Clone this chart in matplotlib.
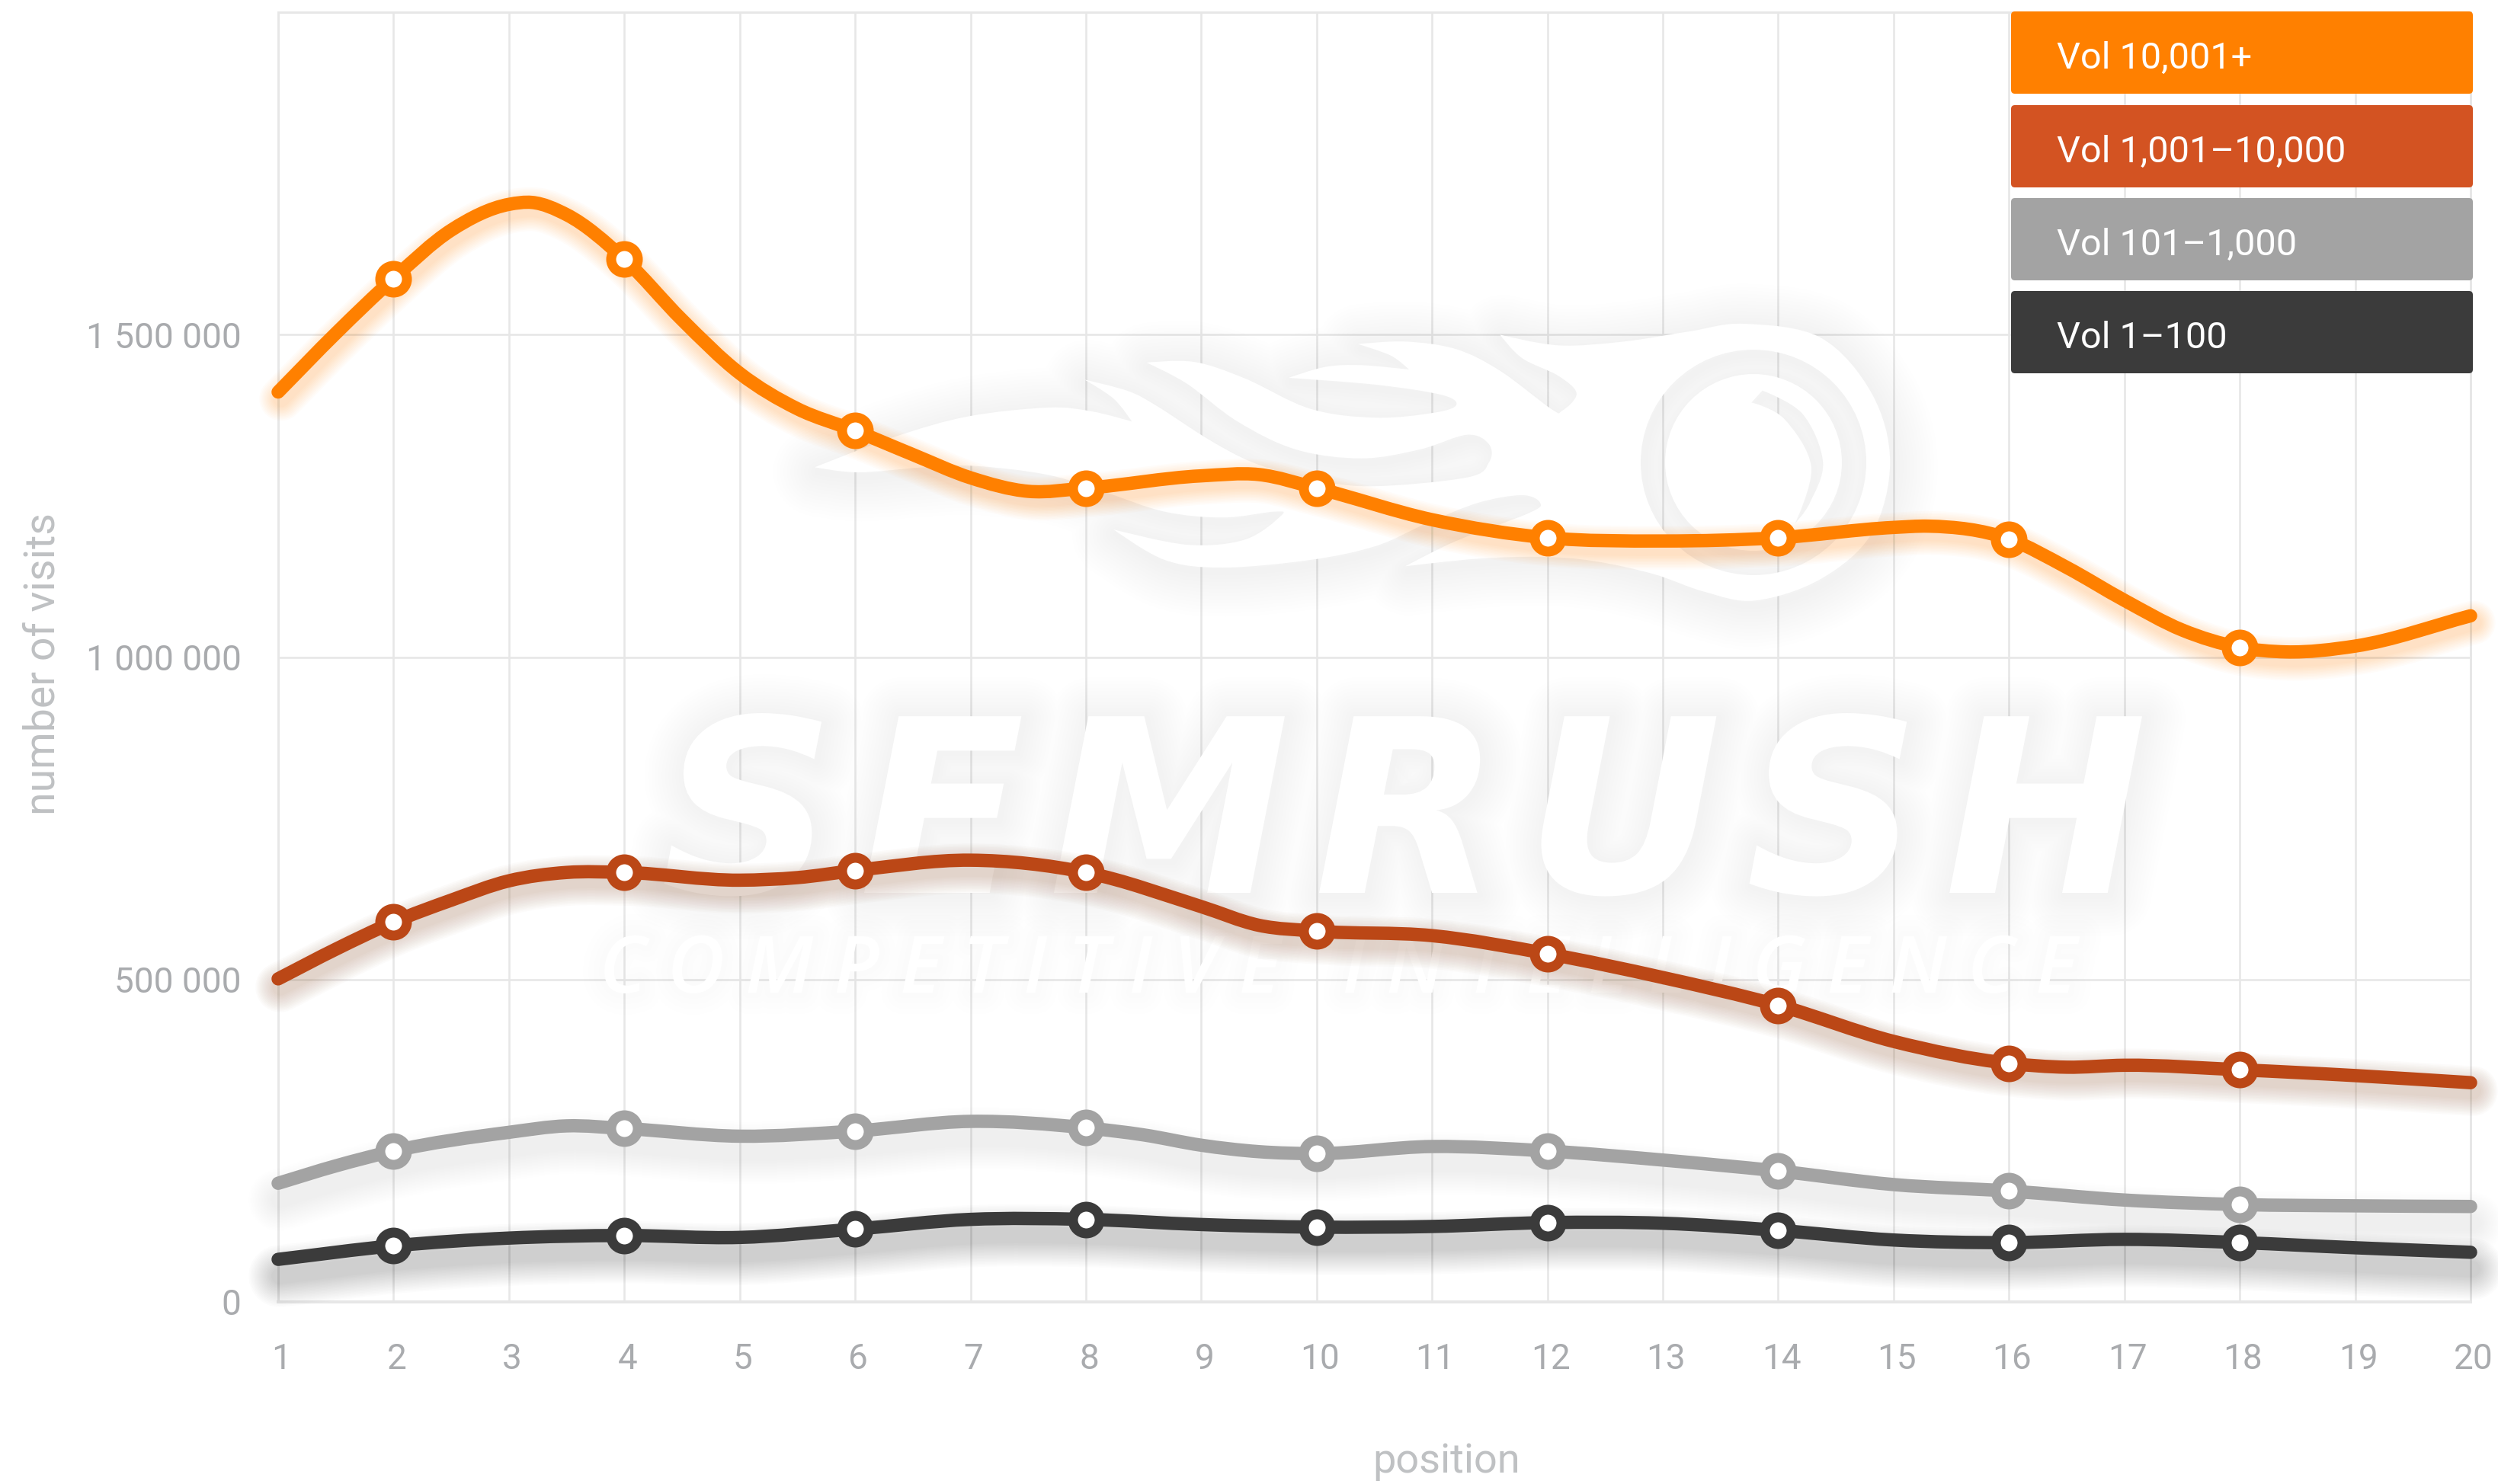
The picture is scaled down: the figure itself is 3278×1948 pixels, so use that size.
import numpy as np
import matplotlib
matplotlib.use("Agg")
import matplotlib.pyplot as plt
import matplotlib.patheffects as pe
from matplotlib.patches import FancyBboxPatch, PathPatch
from matplotlib.path import Path
from matplotlib.transforms import IdentityTransform, ScaledTranslation

plt.rcParams["font.family"] = ["Roboto", "DejaVu Sans"]

# values; the extra half positions hold the curve's shape
orange_x = [1, 1.5, 2, 2.5, 3, 3.2, 3.5, 4, 4.5, 5, 5.5, 6, 6.5, 7, 7.5, 8, 9, 9.5, 10, 11, 12, 13, 14, 15, 15.3, 16, 16.5, 17, 17.5, 18, 18.4, 19, 20]
orange_y = [1411000, 1502000, 1587000, 1662000, 1702000, 1705000, 1686000, 1617000, 1523000, 1440000, 1385000, 1351000, 1314000, 1278000, 1257000, 1262000, 1281000, 1283000, 1262000, 1213000, 1185000, 1180000, 1185000, 1201000, 1203000, 1183000, 1139000, 1088000, 1042000, 1015000, 1008000, 1017000, 1064000]

rust_x = [1, 1.5, 2, 2.5, 3, 3.5, 4, 5, 5.5, 6, 7, 8, 9, 9.5, 10, 11, 12, 13, 14, 15, 16, 16.5, 17, 18, 19, 20]
rust_y = [501000, 547000, 589000, 623000, 653000, 666000, 666000, 654000, 658000, 669000, 685000, 666000, 613000, 584000, 575000, 568000, 540000, 503000, 460000, 404000, 370000, 364000, 367000, 360000, 351000, 340000]

gray_x = [1, 1.5, 2, 3, 3.5, 4, 5, 6, 7, 8, 8.5, 9, 9.5, 10, 11, 12, 13, 14, 15, 16, 17, 18, 19, 20]
gray_y = [184000, 211000, 234000, 263000, 273000, 269000, 257000, 265000, 280000, 270000, 259000, 243000, 233000, 230000, 241000, 234000, 220000, 203000, 182000, 172000, 158000, 151000, 149000, 148000]

dark_x = list(range(1, 21))
dark_y = [66000, 87000, 99000, 103000, 100000, 113000, 128000, 128000, 120000, 116000, 117000, 123000, 122000, 111000, 96000, 92000, 97000, 92000, 84000, 77000]

legend_labels = ["Vol 10,001+", "Vol 1,001\u201310,000", "Vol 101\u20131,000", "Vol 1\u2013100"]
legend_colors = ["#ff8000", "#d35322", "#a3a3a3", "#3b3b3b"]

x_ticks = list(range(1, 21))
y_ticks = [0, 500000, 1000000, 1500000, 2000000]
y_tick_labels = ["0", "500 000", "1 000 000", "1 500 000", ""]

# flame outline of the watermark, in px of a 1500x420 crop shown at 1568x1260
FLAME = [(20, 640), (130, 520), (230, 440), (340, 405), (400, 420), (455, 460), (430, 370), (390, 295),
         (450, 340), (490, 400), (560, 530), (620, 620), (690, 680), (780, 715), (915, 680), (945, 620),
         (945, 550), (915, 512), (850, 570), (770, 605), (680, 570), (600, 460), (530, 310), (475, 228),
         (540, 225), (610, 290), (700, 410), (790, 445), (870, 425), (900, 395), (880, 355), (790, 315),
         (670, 288), (720, 245), (770, 238), (835, 255), (810, 200), (765, 155), (830, 145), (900, 175),
         (960, 260), (1030, 410), (1045, 418), (1065, 350), (1040, 280), (990, 210), (960, 118), (1040, 160),
         (1130, 145), (1220, 105), (1295, 75), (1400, 130), (1470, 350), (1495, 620), (1470, 900), (1400, 1080),
         (1310, 1165), (1240, 1130), (1170, 1060), (1090, 1010), (1020, 993), (930, 1000), (830, 1030), (900, 930),
         (1000, 820), (1015, 780), (990, 750), (930, 780), (860, 860), (790, 950), (700, 1005), (580, 1035),
         (500, 1005), (430, 885), (530, 945), (610, 925), (660, 830), (650, 815), (580, 838), (500, 815),
         (420, 740), (340, 670), (240, 635), (170, 640), (80, 660)]
FLAME_TIPS = {(20, 640), (455, 460), (390, 295), (475, 228), (670, 288), (835, 255), (765, 155), (960, 118),
              (830, 1030), (430, 885)}
CRESCENT = [(1320, 338), (1375, 430), (1403, 620), (1385, 780), (1365, 860), (1387, 640), (1350, 450), (1305, 385)]
CRESCENT_TIPS = {(1320, 338), (1365, 860), (1305, 385)}

W, H = 3278, 1948
PX = 72 / 100  # points per pixel at dpi 100
LEFT, RIGHT, TOP, BOTTOM = 365, 3242, 16, 1709
TEXT_GRAY = "#a9abae"
LABEL_GRAY = "#bfc1c3"
GRID = "#e7e7e7"


def curve_path(xs, ys):
    # open cubic through the read values, x stays monotonic
    xs = np.array(xs, float)
    ys = np.array(ys, float)
    slopes = np.gradient(ys, xs)
    verts = [(xs[0], ys[0])]
    codes = [Path.MOVETO]
    for i in range(len(xs) - 1):
        h = (xs[i + 1] - xs[i]) / 3
        verts += [(xs[i] + h, ys[i] + slopes[i] * h),
                  (xs[i + 1] - h, ys[i + 1] - slopes[i + 1] * h),
                  (xs[i + 1], ys[i + 1])]
        codes += [Path.CURVE4] * 3
    return Path(verts, codes)


def crop_to_px(pt):
    return np.array([1050 + pt[0] / 1.0453, H - (400 + pt[1] / 3)])


def closed_path(points, tips, clockwise=True):
    if not clockwise:
        points = points[::-1]
    n = len(points)
    p = [crop_to_px(q) for q in points]
    tang = [np.zeros(2) if points[i] in tips else (p[(i + 1) % n] - p[i - 1]) / 6 for i in range(n)]
    verts = [p[0]]
    codes = [Path.MOVETO]
    for i in range(n):
        j = (i + 1) % n
        verts += [p[i] + tang[i], p[j] - tang[j], p[j]]
        codes += [Path.CURVE4] * 3
    verts.append(p[0])
    codes.append(Path.CLOSEPOLY)
    return Path(np.array(verts), codes)


def circle_path(center, r, clockwise=False):
    c = Path.circle(center, r)
    if clockwise:
        # last vertex is the closepoly one, keep it at the end
        v = c.vertices[:-1][::-1]
        return Path(np.vstack([v, v[:1]]), c.codes)
    return c


def soft_shadow(color, base, steps, grow, alpha, dx=0, dy=0):
    effects = []
    for i in range(steps, 0, -1):
        effects.append(pe.Stroke(linewidth=(base + i * grow) * PX, foreground=color, alpha=alpha,
                                 offset=(dx * PX, dy * PX), joinstyle="round", capstyle="round"))
    return effects


fig = plt.figure(figsize=(W / 100, H / 100), dpi=100, facecolor="white")
ax = fig.add_axes([LEFT / W, 1 - BOTTOM / H, (RIGHT - LEFT) / W, (BOTTOM - TOP) / H])
ax.set_xlim(1, 20)
ax.set_ylim(0, 2000000)
ax.set_xticks(x_ticks)
ax.set_yticks(y_ticks)
ax.set_yticklabels(y_tick_labels)
ax.grid(True, color=GRID, linewidth=2.6 * PX, zorder=0.5)
ax.set_axisbelow(True)
ax.tick_params(length=0, labelsize=33, labelcolor=TEXT_GRAY)
ax.tick_params(axis="x", pad=38)
ax.tick_params(axis="y", pad=35)
for lab in ax.get_xticklabels():
    lab.set_transform(lab.get_transform() + ScaledTranslation(4 / 100, 0, fig.dpi_scale_trans))
for s in ax.spines.values():
    s.set_color(GRID)
    s.set_linewidth(3 * PX)
ax.spines["bottom"].set_linewidth(4 * PX)

ax.set_xlabel("position", fontsize=39, color=LABEL_GRAY)
ax.xaxis.set_label_coords((1898 - LEFT) / (RIGHT - LEFT), -(1919 - BOTTOM) / (BOTTOM - TOP))
ax.xaxis.label.set_va("center")
ax.set_ylabel("number of visits", fontsize=40, color=LABEL_GRAY)
ax.yaxis.set_label_coords((56 - LEFT) / (RIGHT - LEFT), (BOTTOM - 872) / (BOTTOM - TOP))
ax.yaxis.label.set_va("center")

# watermark: white flame and lettering over the grid, seen only through their shadow
px_trans = IdentityTransform()
ring_center = (2301, H - 607)
flame = Path.make_compound_path(
    closed_path(FLAME, FLAME_TIPS),
    circle_path(ring_center, 148),
    circle_path(ring_center, 116, clockwise=True),
    closed_path(CRESCENT, CRESCENT_TIPS, clockwise=False),
)
ax.add_patch(PathPatch(flame, transform=px_trans, fc="none", ec="none", lw=0, zorder=1, clip_on=False,
                       path_effects=soft_shadow("black", 0, 13, 9, 0.004, dx=4, dy=-6)))
ax.add_patch(PathPatch(flame, transform=px_trans, fc="white", ec="none", lw=0, zorder=1.1, clip_on=False))

word = ax.text(1842, H - 1172, "S\u200aE\u200aM\u200aR\u200aU\u200aS\u200aH", transform=px_trans,
               family="DejaVu Sans", fontweight="bold", style="oblique", fontsize=318 * PX, color="white",
               ha="center", va="baseline", zorder=1.2)
word.set_path_effects(soft_shadow("black", 0, 12, 9, 0.004, dx=3, dy=-3) + [pe.Normal()])
tag = ax.text(1756, H - 1303, "C O M P E T I T I V E   I N T E L L I G E N C E", transform=px_trans,
              family="Open Sans", style="italic", fontweight="semibold", fontsize=104 * PX, color="white",
              ha="center", va="baseline", zorder=1.2)
tag.set_path_effects(soft_shadow("black", 0, 4, 14, 0.004) + [pe.Normal()])

# x, y, line colour, shadow colour, shadow alpha, shadow steps, shadow offset
series = [
    (orange_x, orange_y, "#ff8000", "#ff8000", 0.022, 10, (4, -9)),
    (rust_x, rust_y, "#bb4716", "#8a4a20", 0.018, 12, (3, -11)),
    (gray_x, gray_y, "#a3a3a3", "#000000", 0.005, 16, (2, -22)),
    (dark_x, dark_y, "#3b3b3b", "#000000", 0.012, 16, (2, -22)),
]
for xs, ys, color, shadow, alpha, steps, (dx, dy) in series:
    line = PathPatch(curve_path(xs, ys), fc="none", ec=color, lw=17.5 * PX, capstyle="round", joinstyle="round",
                     zorder=3, clip_on=False)
    line.set_path_effects(soft_shadow(shadow, 17.5, steps, 4, alpha, dx=dx, dy=dy) + [pe.Normal()])
    ax.add_patch(line)
    # the ring markers sit on the even positions up to 18
    mx = [x for x in xs if x % 2 == 0 and x < 20]
    my = [y for x, y in zip(xs, ys) if x % 2 == 0 and x < 20]
    ax.plot(mx, my, "o", ms=35 * PX, mfc="white", mec=color, mew=13 * PX, zorder=4, clip_on=False)

# legend boxes
box_tops = [15, 138, 260, 382]
for label, color, top in zip(legend_labels, legend_colors, box_tops):
    ax.add_patch(FancyBboxPatch((2639, H - top - 108), 606, 108, boxstyle="round,pad=0,rounding_size=5",
                                transform=px_trans, fc=color, ec="none", zorder=6, clip_on=False))
    ax.text(2699, H - top - 57, label, transform=px_trans, color="white", fontsize=35,
            ha="left", va="center_baseline", zorder=7)

fig.savefig("out.png", dpi=100, facecolor="white")
